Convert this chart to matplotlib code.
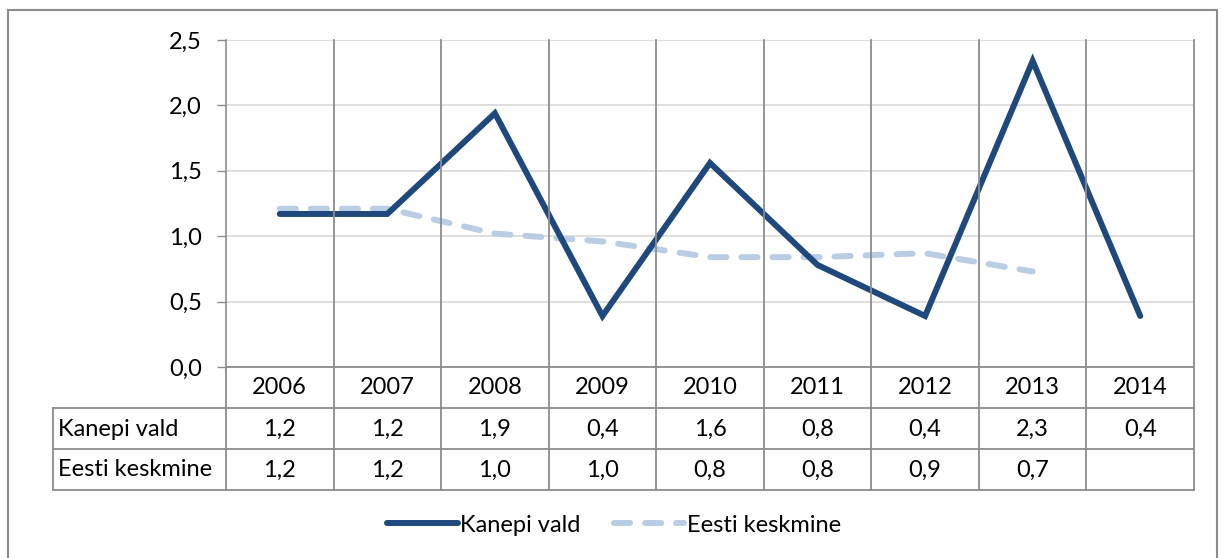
import matplotlib.pyplot as plt
from matplotlib.lines import Line2D
from matplotlib.patches import Rectangle
from matplotlib.transforms import blended_transform_factory

years = ["2006", "2007", "2008", "2009", "2010", "2011", "2012", "2013", "2014"]
kanepi = [1.17, 1.17, 1.94, 0.39, 1.56, 0.78, 0.39, 2.34, 0.39]
eesti = [1.21, 1.21, 1.02, 0.96, 0.84, 0.84, 0.87, 0.73]
series_names = ["Kanepi vald", "Eesti keskmine"]
yticks = [0.0, 0.5, 1.0, 1.5, 2.0, 2.5]

DARK = "#1F497D"
LIGHT = "#B9CDE5"
GRID = "#D9D9D9"
EDGE = "#8C8C8C"
W, H = 1223, 558
FS = 17

plt.rcParams["font.family"] = ["Lato", "DejaVu Sans"]


def fy(py):
    # pixel row from top -> figure fraction
    return 1 - py / H


def fmt(v):
    return f"{v:.1f}".replace(".", ",")


fig = plt.figure(figsize=(W / 100, H / 100), dpi=100)

# outer chart border (bottom edge falls outside the picture)
fig.patches.append(Rectangle((8 / W, fy(570)), 1209 / W, (570 - 10) / H,
                             transform=fig.transFigure, fill=False,
                             edgecolor=EDGE, linewidth=1.5))

left, right, top, bottom = 226, 1194, 40, 367
ax = fig.add_axes([left / W, fy(bottom), (right - left) / W, (bottom - top) / H])

x = list(range(len(years)))
ax.plot(x, kanepi, color=DARK, linewidth=4.3, solid_capstyle="round",
        solid_joinstyle="miter", label=series_names[0], zorder=3)
ax.plot(x[:len(eesti)], eesti, color=LIGHT, linewidth=4.3, dashes=(2.7, 2.5),
        dash_capstyle="round", label=series_names[1], zorder=2)

ax.set_xlim(-0.5, len(years) - 0.5)
ax.set_ylim(0, 2.5)
ax.set_yticks(yticks)
ax.set_yticklabels([fmt(v) for v in yticks], fontsize=FS)
ax.set_xticks([])
ax.tick_params(axis="y", length=6.5, width=1, color=EDGE, pad=11)
ax.grid(axis="y", color=GRID, linewidth=1.2)
ax.set_axisbelow(True)
for s in ["top", "right", "bottom"]:
    ax.spines[s].set_visible(False)
ax.spines["left"].set_color(EDGE)
ax.spines["left"].set_linewidth(1.2)

# vertical category separators and data table
trans = blended_transform_factory(ax.transData, fig.transFigure)
table_bottom = 490
row_lines = [367, 408, 449, 490]
for i in range(len(years) + 1):
    xb = i - 0.5
    y_start = top if i > 0 else bottom
    fig.add_artist(Line2D([xb, xb], [fy(y_start), fy(table_bottom)],
                          transform=trans, color=EDGE, linewidth=1.3, zorder=1))
for j, py in enumerate(row_lines):
    x0 = left if j == 0 else 53
    fig.add_artist(Line2D([x0 / W, right / W], [fy(py), fy(py)],
                          transform=fig.transFigure, color=EDGE, linewidth=1.3))
fig.add_artist(Line2D([53 / W, 53 / W], [fy(408), fy(490)],
                      transform=fig.transFigure, color=EDGE, linewidth=1.3))

for i, yr in enumerate(years):
    fig.text(i, fy(388), yr, transform=trans, ha="center", va="center", fontsize=FS)

rows = [kanepi, eesti]
for r, (name, vals) in enumerate(zip(series_names, rows)):
    yc = fy(429 + 41 * r)
    fig.text(58 / W, yc, name, ha="left", va="center", fontsize=FS)
    for i, v in enumerate(vals):
        fig.text(i, yc, fmt(v), transform=trans, ha="center", va="center", fontsize=FS)

fig.legend(loc="center", bbox_to_anchor=(0.502, fy(525)), ncol=2, frameon=False,
           fontsize=FS, handlelength=3.0, handletextpad=0.1, columnspacing=1.4)

fig.savefig("out.png", dpi=100)
